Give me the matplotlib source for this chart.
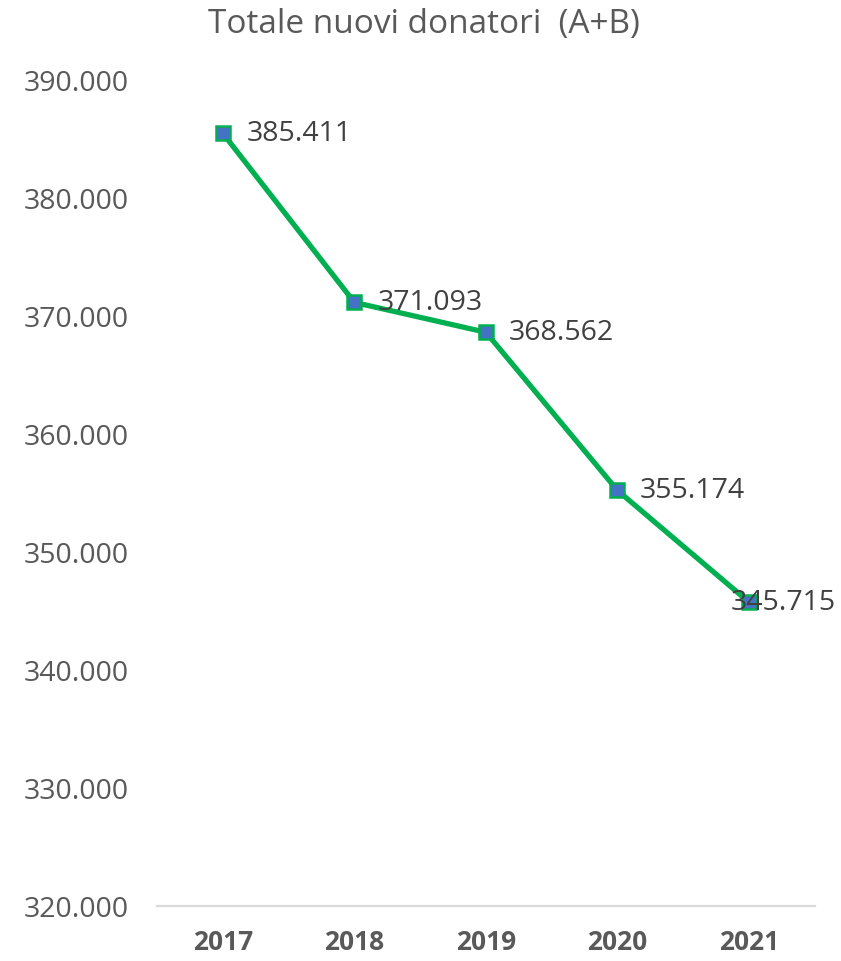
from matplotlib import pyplot as plt
from matplotlib.ticker import FuncFormatter
import numpy as np

years = ["2017", "2018", "2019", "2020", "2021"]
donatori = [385411, 371093, 368562, 355174, 345715]
y_ticks = [320000, 330000, 340000, 350000, 360000, 370000, 380000, 390000]
title = "Totale nuovi donatori  (A+B)"

plt.rcParams["font.family"] = ["Open Sans", "DejaVu Sans"]


def fmt_it(v, pos=None):
    # separatore delle migliaia all'italiana
    return f"{v:,.0f}".replace(",", ".")


fig = plt.figure(figsize=(8.41, 9.62), dpi=100)
ax = fig.add_axes([0.1867, 0.0572, 0.9689 - 0.1867, 0.9168 - 0.0572])

x = np.arange(len(years))
ax.plot(x, donatori, color="#00B050", lw=3.8, marker="s", markersize=10,
        markerfacecolor="#4472C4", markeredgecolor="#00B050", markeredgewidth=1.8,
        solid_joinstyle="round", zorder=3)

# etichette dei valori, l'ultima spostata a sinistra come in Excel
offsets = [24, 23, 23, 22, -18]
for xi, v, off in zip(x, donatori, offsets):
    ax.annotate(fmt_it(v), (xi, v), xytext=(off, 0), textcoords="offset pixels",
                ha="left", va="center", fontsize=20.5, color="#404040", zorder=4)

ax.set_xlim(-0.5, len(years) - 0.5)
ax.set_ylim(min(y_ticks), max(y_ticks))
ax.set_yticks(y_ticks)
ax.yaxis.set_major_formatter(FuncFormatter(fmt_it))
ax.set_xticks(x)
ax.set_xticklabels(years, fontweight="bold")

ax.tick_params(axis="y", length=0, pad=20, labelsize=20.5, labelcolor="#595959")
ax.tick_params(axis="x", length=0, pad=16, labelsize=19, labelcolor="#595959")

for side in ["top", "right", "left"]:
    ax.spines[side].set_visible(False)
ax.spines["bottom"].set_color("#D9D9D9")
ax.spines["bottom"].set_linewidth(1.6)

fig.text(424 / 841, 1 - 25 / 962, title, ha="center", va="center",
         fontsize=24, color="#595959")

fig.savefig("out.png", dpi=100)
